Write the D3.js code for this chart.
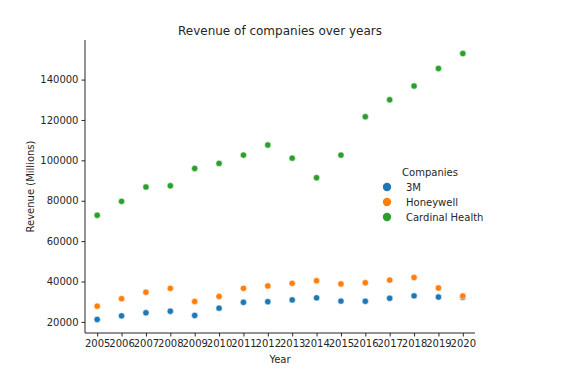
<!DOCTYPE html>
<html>
<head>
<meta charset="utf-8">
<script src="https://cdn.jsdelivr.net/npm/d3@7"></script>
<style>
  body { margin: 0; background: #fff; }
  svg { font-family: "DejaVu Sans", sans-serif; }
</style>
</head>
<body>
<svg id="chart" width="584" height="375"></svg>
<script>
var years = [2005, 2006, 2007, 2008, 2009, 2010, 2011, 2012, 2013, 2014, 2015, 2016, 2017, 2018, 2019, 2020]
var companies = ["3M", "Honeywell", "Cardinal Health"]
var revenue3M = [21200, 23000, 24500, 25300, 23200, 26800, 29700, 30000, 30900, 31900, 30300, 30200, 31700, 32900, 32300, 32200]
var revenueHoneywell = [27800, 31500, 34700, 36600, 30100, 32600, 36600, 37800, 39100, 40400, 38800, 39400, 40700, 42000, 36800, 32800]
var revenueCardinal = [72800, 79700, 86800, 87400, 96000, 98500, 102600, 107600, 101100, 91400, 102600, 121600, 130000, 136800, 145500, 152900]
var yTicks = [20000, 40000, 60000, 80000, 100000, 120000, 140000]
var colors = ["#1f77b4", "#ff7f0e", "#2ca02c"]

var dimensions = {
    width: 584,
    height: 375,
    margin: { top: 40, bottom: 42, left: 85, right: 109 }
}

var svg = d3.select("#chart")

var xScale = d3.scaleLinear()
    .domain([2004.5, 2020.5])
    .range([dimensions.margin.left, dimensions.width - dimensions.margin.right])

var yScale = d3.scaleLinear()
    .domain([14500, 159600])
    .range([dimensions.height - dimensions.margin.bottom, dimensions.margin.top])

var series = [revenue3M, revenueHoneywell, revenueCardinal]
var points = []
series.forEach(function (values, i) {
    values.forEach(function (v, j) {
        points.push({ company: companies[i], year: years[j], value: v, color: colors[i] })
    })
})

// axes
var xAxis = d3.axisBottom(xScale).tickValues(years).tickFormat(d3.format("d")).tickSize(3.5).tickPadding(3)
var yAxis = d3.axisLeft(yScale).tickValues(yTicks).tickFormat(d3.format("d")).tickSize(3.5).tickPadding(3)

var gx = svg.append("g")
    .attr("transform", "translate(0," + (dimensions.height - dimensions.margin.bottom) + ")")
    .call(xAxis)

var gy = svg.append("g")
    .attr("transform", "translate(" + dimensions.margin.left + ",0)")
    .call(yAxis)

gx.select(".domain").attr("d", "M" + dimensions.margin.left + ",0H" + (dimensions.width - dimensions.margin.right))
gy.select(".domain").attr("d", "M0," + (dimensions.height - dimensions.margin.bottom) + "V" + dimensions.margin.top)

svg.selectAll(".domain").attr("stroke", "#262626").attr("stroke-width", 1)
svg.selectAll(".tick line").attr("stroke", "#262626")
svg.selectAll(".tick text")
    .attr("font-size", "10px")
    .attr("font-family", "DejaVu Sans")
    .attr("fill", "#262626")

// points
svg.append("g")
    .selectAll("circle")
    .data(points)
    .enter()
    .append("circle")
    .attr("cx", d => xScale(d.year))
    .attr("cy", d => yScale(d.value))
    .attr("r", 3.2)
    .attr("fill", d => d.color)
    .attr("stroke", "#fff")
    .attr("stroke-width", 0.6)

// labels
svg.append("text")
    .attr("x", (dimensions.margin.left + dimensions.width - dimensions.margin.right) / 2)
    .attr("y", 35)
    .attr("text-anchor", "middle")
    .attr("font-size", "12px")
    .attr("fill", "#262626")
    .text("Revenue of companies over years")

svg.append("text")
    .attr("x", (dimensions.margin.left + dimensions.width - dimensions.margin.right) / 2)
    .attr("y", 363)
    .attr("text-anchor", "middle")
    .attr("font-size", "10px")
    .attr("fill", "#262626")
    .text("Year")

svg.append("text")
    .attr("transform", "translate(34," + ((dimensions.margin.top + dimensions.height - dimensions.margin.bottom) / 2) + ") rotate(-90)")
    .attr("text-anchor", "middle")
    .attr("font-size", "10px")
    .attr("fill", "#262626")
    .text("Revenue (Millions)")

// legend
var legend = svg.append("g").attr("transform", "translate(387,0)")

legend.append("text")
    .attr("x", 43)
    .attr("y", 176)
    .attr("text-anchor", "middle")
    .attr("font-size", "10px")
    .attr("fill", "#262626")
    .text("Companies")

companies.forEach(function (c, i) {
    legend.append("circle")
        .attr("cx", 0)
        .attr("cy", 187 + i * 15)
        .attr("r", 4.2)
        .attr("fill", colors[i])
    legend.append("text")
        .attr("x", 19)
        .attr("y", 190.5 + i * 15)
        .attr("font-size", "10px")
        .attr("fill", "#262626")
        .text(c)
})
</script>
</body>
</html>
